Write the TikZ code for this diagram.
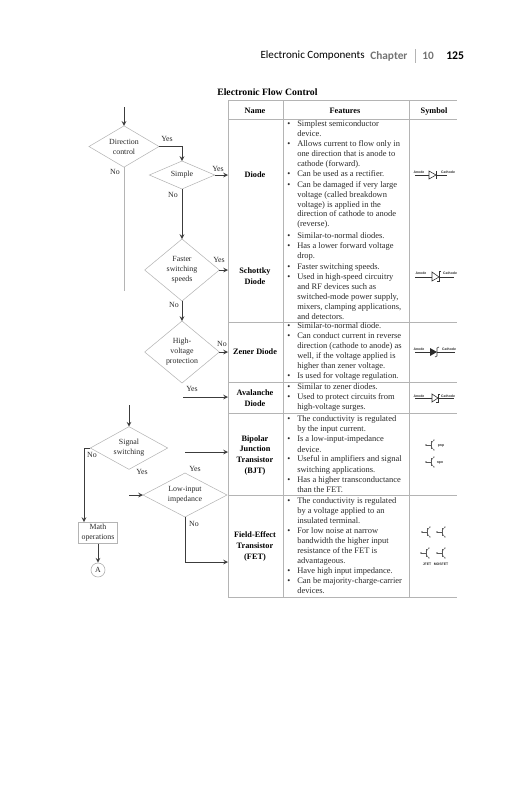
\documentclass[tikz,border=0pt]{standalone}
\usepackage{fontspec}
\setmainfont{Liberation Serif}
\newfontfamily\headfont{Carlito}
\newfontfamily\symfont{Liberation Sans}
\usetikzlibrary{shapes.geometric}
\definecolor{rulegray}{HTML}{B4B4B4}
\definecolor{flowdark}{HTML}{3C3C3C}
\definecolor{inkgray}{HTML}{2A2A2A}
\tikzset{
  decision/.style={diamond, draw=rulegray, line width=0.4pt, inner sep=0pt, outer sep=0pt, align=center,
    font=\fontsize{5.9}{7.5}\selectfont, text=inkgray},
  flowlabel/.style={font=\fontsize{5.9}{7.5}\selectfont, text=inkgray, inner sep=0pt},
  flowarrow/.style={draw=flowdark, line width=0.6pt, -stealth},
  tablerule/.style={draw=rulegray, line width=0.6pt},
  featline/.style={anchor=west, inner sep=0pt, text height=4.4pt, text depth=1.4pt,
    font=\fontsize{6.35}{7.5}\selectfont, text=inkgray},
  namelabel/.style={inner sep=0pt, text height=4.4pt, text depth=1.4pt,
    font=\fontsize{6.2}{7.5}\bfseries\selectfont, text=black},
  symtext/.style={inner sep=0pt, font=\symfont\fontsize{2.6}{3}\bfseries\selectfont, text=inkgray},
  symline/.style={draw=black!65, line width=0.3pt},
  diodeline/.style={draw=black!80, line width=0.45pt},
  symgate/.pic={
    \draw[symline] (-5,0) -- (0,0);
    \draw[symline] (0,-4) -- (0,4);
    \draw[symline] (0,-1.5) -- (3,-5);
    \draw[symline] (0,1.5) -- (3,5);
    \fill[black!65] (-5,0) circle (0.8);
    \fill[black!65] (3,-5) circle (0.6);
    \fill[black!65] (3,5) circle (0.6);
  },
}
\begin{document}
\begin{tikzpicture}[x=0.75pt, y=-0.75pt]
  \useasboundingbox (0,0) rectangle (531,800);
  % Running head
  \node[anchor=east, inner sep=0pt, font=\headfont\fontsize{8.3}{10}\selectfont] (headtitle) at (365,56) {Electronic Components};
  \node[anchor=west, inner sep=0pt, font=\headfont\fontsize{8.5}{10}\bfseries\selectfont, text=black!55] (headchapter) at (370,56) {Chapter};
  \node[anchor=west, inner sep=0pt, font=\headfont\fontsize{8.5}{10}\bfseries\selectfont, text=black!55] (headnum) at (422,56) {10};
  \node[anchor=west, inner sep=0pt, font=\headfont\fontsize{8.8}{10}\bfseries\selectfont] (headpage) at (446,56) {125};
  \draw[rulegray, line width=0.5pt] (415,49) -- (415,63);
  \node[anchor=west, inner sep=0pt, font=\fontsize{7.3}{9}\bfseries\selectfont] (tabletitle) at (217,92) {Electronic Flow Control};
  % Table rules
  \draw[tablerule] (228,100) -- (457,100);
  \draw[tablerule] (228,119) -- (457,119);
  \draw[tablerule] (228,322) -- (457,322);
  \draw[tablerule] (228,382) -- (457,382);
  \draw[tablerule] (228,413) -- (457,413);
  \draw[tablerule] (228,495) -- (457,495);
  \draw[tablerule] (228,597) -- (457,597);
  \draw[tablerule] (228,100) -- (228,597);
  \draw[tablerule] (283,100) -- (283,597);
  \draw[tablerule] (409,100) -- (409,597);
  % Table heads and names
  \foreach \xx/\yy/\txt [count=\i] in {255/111/Name, 345/111/Features, 434/111/Symbol,
      255/175/Diode, 255/271/Schottky, 255/282/Diode, 255/352/Zener Diode,
      255/393/Avalanche, 255/404/Diode, 255/439/Bipolar, 255/449/Junction,
      255/460/Transistor, 255/471/(BJT), 255/535/Field-Effect, 255/546/Transistor, 255/557/(FET)}
    \node[namelabel] (name\i) at (\xx,\yy) {\txt};
  % Feature text
  \foreach \yy in {124.3, 144.7, 174, 185.3, 236, 246.7, 267.3, 277.3, 326, 336.7, 376.7,
      387.3, 397.3, 419.3, 439.7, 459.7, 480.3, 501.3, 531.3, 571.3, 581.3} {
    \node[featline] (bullet\yy) at (287,\yy) {\textbullet};
  }
  \foreach \yy/\txt [count=\i] in {
      124.3/{Simplest semiconductor}, 134.3/{device.}, 144.7/{Allows current to flow only in},
      154.3/{one direction that is anode to}, 164.3/{cathode (forward).}, 174/{Can be used as a rectifier.},
      185.3/{Can be damaged if very large}, 195/{voltage (called breakdown}, 205/{voltage) is applied in the},
      214.3/{direction of cathode to anode}, 224.3/{(reverse).},
      236/{Similar-to-normal diodes.}, 246.7/{Has a lower forward voltage}, 256.7/{drop.},
      267.3/{Faster switching speeds.}, 277.3/{Used in high-speed circuitry}, 287.3/{and RF devices such as},
      297.3/{switched-mode power supply,}, 307.3/{mixers, clamping applications,}, 317.3/{and detectors.},
      326/{Similar-to-normal diode.}, 336.7/{Can conduct current in reverse},
      346.7/{direction (cathode to anode) as}, 356.7/{well, if the voltage applied is},
      366.7/{higher than zener voltage.}, 376.7/{Is used for voltage regulation.},
      387.3/{Similar to zener diodes.}, 397.3/{Used to protect circuits from}, 407.3/{high-voltage surges.},
      419.3/{The conductivity is regulated}, 429.3/{by the input current.}, 439.7/{Is a low-input-impedance},
      450/{device.}, 459.7/{Useful in amplifiers and signal}, 470/{switching applications.},
      480.3/{Has a higher transconductance}, 490.3/{than the FET.},
      501.3/{The conductivity is regulated}, 511.3/{by a voltage applied to an}, 521.3/{insulated terminal.},
      531.3/{For low noise at narrow}, 541.3/{bandwidth the higher input}, 551.3/{resistance of the FET is},
      561.3/{advantageous.}, 571.3/{Have high input impedance.}, 581.3/{Can be majority-charge-carrier}, 591/{devices.}}
    \node[featline] (feat\i) at (297,\yy) {\txt};
  % Flow chart
  \node[decision, minimum width=52.5pt, minimum height=31pt, aspect=1.7] (dirctl) at (124,146.5) {Direction\\control};
  \node[decision, minimum width=49pt, minimum height=21pt, aspect=2.3] (simple) at (182,175) {Simple};
  \node[decision, minimum width=56pt, minimum height=46.5pt, aspect=1.2] (faster) at (182,270) {Faster\\switching\\speeds};
  \node[decision, minimum width=56pt, minimum height=46.5pt, aspect=1.2] (highv) at (182,352) {High-\\voltage\\protection};
  \node[decision, minimum width=58pt, minimum height=32pt, aspect=1.8] (signal) at (129,448) {Signal\\switching};
  \node[decision, minimum width=63pt, minimum height=33pt, aspect=1.9] (lowin) at (185,495) {Low-input\\impedance};
  \node[draw=rulegray, line width=0.5pt, minimum width=29pt, minimum height=16pt, inner sep=0pt, align=center,
    font=\fontsize{5.9}{7.5}\selectfont, text=inkgray] (mathops) at (98,532.5) {Math\\operations};
  \node[circle, draw=rulegray, line width=0.5pt, minimum size=10.5pt, inner sep=0pt,
    font=\fontsize{5.9}{7.5}\selectfont, text=inkgray] (offpage) at (98,570) {A};
  \coordinate (dirstart) at (124,107);
  \coordinate (dirend) at (124,291);
  \coordinate (diodein) at (228,175);
  \coordinate (schottkyin) at (228,270);
  \coordinate (zenerin) at (228,352);
  \coordinate (avalstart) at (183,397);
  \coordinate (avalin) at (228,397);
  \coordinate (sigstart) at (129,405);
  \coordinate (mathin) at (84,522);
  \coordinate (bjtstart) at (185,452);
  \coordinate (bjtin) at (228,452);
  \coordinate (lowstart) at (129,495);
  \coordinate (fetin) at (228,562);
  \draw[flowarrow] (dirstart) -- (dirctl.north);
  \draw[tablerule] (dirctl.south) -- (dirend);
  \draw[flowarrow] (dirctl.east) -| (simple.north);
  \draw[flowarrow] (simple.east) -- (diodein);
  \draw[flowarrow] (simple.south) -- (faster.north);
  \draw[flowarrow] (faster.east) -- (schottkyin);
  \draw[flowarrow] (faster.south) -- (highv.north);
  \draw[flowarrow] (highv.east) -- (zenerin);
  \draw[flowarrow] (avalstart) -- (avalin);
  \draw[flowarrow] (sigstart) -- (signal.north);
  \draw[flowarrow] (signal.west) -| (mathin);
  \draw[flowarrow] (mathops) -- (offpage);
  \draw[flowarrow] (bjtstart) -- (bjtin);
  \draw[flowarrow] (lowstart) -- (lowin.west);
  \draw[flowarrow] (lowin.south) |- (fetin);
  % Flow chart labels
  \foreach \xx/\yy/\txt [count=\i] in {167/139/Yes, 115/172/No, 218/169/Yes, 173/195/No, 219/260/Yes,
      174/305/No, 222/344/No, 192/389/Yes, 92/455/No, 142/472/Yes, 195/469/Yes, 194/524/No}
    \node[flowlabel] (flowtag\i) at (\xx,\yy) {\txt};
  % Diode symbols
  \foreach \xx/\yy/\txt [count=\i] in {419/172/Anode, 448/172/Cathode, 421/273/Anode, 450/273/Cathode,
      419/349/Anode, 449/349/Cathode, 419/396/Anode, 448/396/Cathode,
      441/446/pnp, 440/463/npn, 427/564/JFET, 441/564/MOSFET}
    \node[symtext] (symlabel\i) at (\xx,\yy) {\txt};
  \draw[diodeline] (415,175) -- (429,175) (436,175) -- (447,175);
  \draw[diodeline] (429,171) -- (436,175) -- (429,179) -- cycle;
  \draw[diodeline] (436,171) -- (436,179);
  \draw[diodeline] (415,277) -- (432,277) (439,277) -- (454,277);
  \draw[diodeline] (432,272) -- (439,277) -- (432,281) -- cycle;
  \draw[diodeline] (441,271) -- (439,271) -- (439,281) -- (437,281);
  \draw[diodeline] (415,352) -- (430,352) (437,352) -- (455,352);
  \fill[inkgray] (430,348) -- (437,352) -- (430,356) -- cycle;
  \draw[diodeline] (439,347) -- (437,348) -- (437,356) -- (435,357);
  \draw[diodeline] (415,398) -- (432,398) (438,398) -- (454,398);
  \draw[diodeline] (432,394) -- (438,398) -- (432,402) -- cycle;
  \draw[diodeline] (440,394) -- (438,394) -- (438,402) -- (436,402);
  % Transistor symbols
  \pic at (431,445) {symgate};
  \pic at (431,462) {symgate};
  \pic at (427,532) {symgate};
  \pic at (442,532) {symgate};
  \pic at (426,553) {symgate};
  \pic at (442,553) {symgate};
\end{tikzpicture}
\end{document}
